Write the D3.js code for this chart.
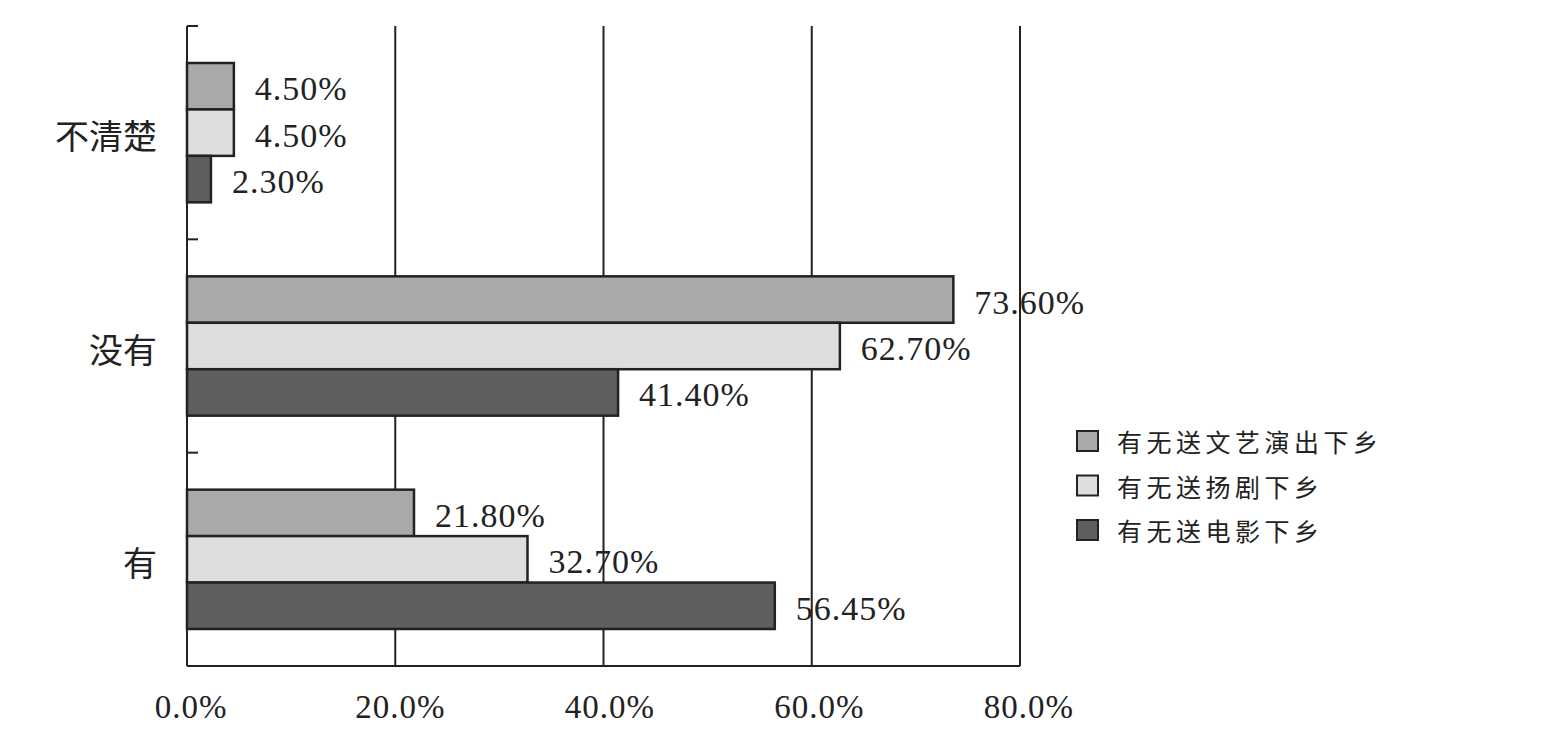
<!DOCTYPE html>
<html><head><meta charset="utf-8">
<script src="https://cdn.jsdelivr.net/npm/d3@7/dist/d3.min.js"></script>
<style>body{margin:0;background:#fff}</style>
</head><body>
<svg id="c" width="1560" height="743"></svg>
<script>
const categories = ["不清楚", "没有", "有"];
const seriesNames = ["有无送文艺演出下乡", "有无送扬剧下乡", "有无送电影下乡"];
const wenyi = [4.5, 73.6, 21.8];
const yangju = [4.5, 62.7, 32.7];
const dianying = [2.3, 41.4, 56.45];
const xTicks = [0, 20, 40, 60, 80];
const colors = ["#a9a9a9", "#dedede", "#5e5e5e"];

const series = [wenyi, yangju, dianying];
const svg = d3.select("#c");
const x = d3.scaleLinear().domain([0, 80]).range([187, 1020]);
const y = d3.scaleBand().domain(categories).range([26, 666]).padding(0);
const inner = d3.scaleBand().domain(d3.range(series.length)).range([37, y.bandwidth() - 37]).padding(0);
const serif = "'Liberation Serif','Times New Roman',serif";
const cjk = "'Noto Sans CJK SC','Noto Sans',sans-serif";

// gridlines
svg.append("g").selectAll("line").data(xTicks.slice(1)).join("line")
  .attr("x1", d => x(d)).attr("x2", d => x(d))
  .attr("y1", y.range()[0]).attr("y2", y.range()[1])
  .attr("stroke", "#222").attr("stroke-width", 2);

// bars
const bars = [];
series.forEach((vals, si) => vals.forEach((v, ci) => bars.push({si, ci, v, cat: categories[ci]})));
svg.append("g").selectAll("rect").data(bars).join("rect")
  .attr("x", x(0)).attr("y", d => y(d.cat) + inner(d.si))
  .attr("width", d => x(d.v) - x(0)).attr("height", inner.bandwidth())
  .attr("fill", d => colors[d.si]).attr("stroke", "#222").attr("stroke-width", 2.5);

// value labels
svg.append("g").selectAll("text").data(bars).join("text")
  .attr("x", d => x(d.v) + 21)
  .attr("y", d => y(d.cat) + inner(d.si) + inner.bandwidth() / 2 + 14)
  .attr("font-family", serif).attr("font-size", 34).attr("letter-spacing", 1)
  .attr("fill", "#222")
  .text(d => d.v.toFixed(2) + "%");

// axes lines
const ax = svg.append("g").attr("stroke", "#222").attr("stroke-width", 2);
ax.append("line").attr("x1", x(0)).attr("x2", x(0)).attr("y1", y.range()[0]).attr("y2", y.range()[1]);
ax.append("line").attr("x1", x(0)).attr("x2", x(80)).attr("y1", y.range()[1]).attr("y2", y.range()[1]);
const bounds = categories.map(c => y(c)).concat([y.range()[1]]);
ax.selectAll(".tk").data(bounds).join("line")
  .attr("x1", x(0)).attr("x2", x(0) + 11).attr("y1", d => d).attr("y2", d => d);

// x tick labels
svg.append("g").selectAll("text").data(xTicks).join("text")
  .attr("x", d => x(d) + 4 + d * 0.06).attr("y", 718)
  .attr("text-anchor", "middle")
  .attr("font-family", serif).attr("font-size", 33).attr("letter-spacing", 1)
  .attr("fill", "#222")
  .text(d => d.toFixed(1) + "%");

// category labels
svg.append("g").selectAll("text").data(categories).join("text")
  .attr("x", 157).attr("y", d => y(d) + y.bandwidth() / 2 + 2)
  .attr("text-anchor", "end").attr("dominant-baseline", "central")
  .attr("font-family", cjk).attr("font-size", 34)
  .attr("fill", "#222")
  .text(d => d);

// legend
const lg = svg.append("g").selectAll("g").data(seriesNames).join("g")
  .attr("transform", (d, i) => `translate(1077, ${441 + i * 44.5})`);
lg.append("rect").attr("x", 0).attr("y", -10).attr("width", 21).attr("height", 20)
  .attr("fill", (d, i) => colors[i]).attr("stroke", "#222").attr("stroke-width", 2);
lg.append("text").attr("x", 40).attr("y", 0).attr("dominant-baseline", "central")
  .attr("font-family", cjk).attr("font-size", 25).attr("letter-spacing", 4.5)
  .attr("fill", "#222").text(d => d);
</script>
</body></html>
